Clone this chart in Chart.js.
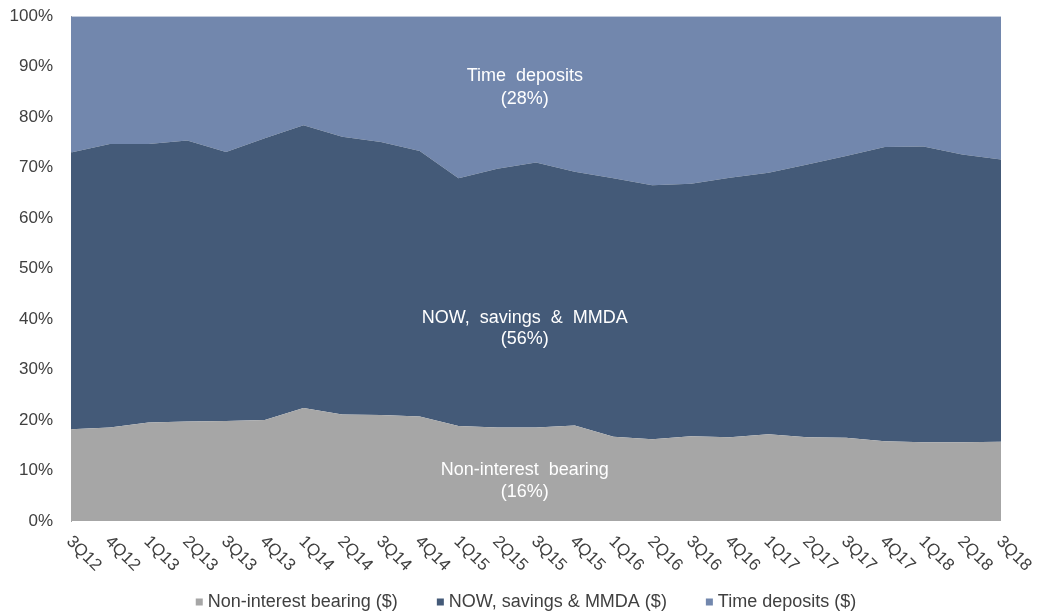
<!DOCTYPE html>
<html>
<head>
<meta charset="utf-8">
<script src="https://cdn.jsdelivr.net/npm/chart.js@4/dist/chart.umd.min.js"></script>
<style>
  html, body { margin: 0; padding: 0; background: #fff; }
  #wrap { width: 1042px; height: 616px; }
</style>
</head>
<body>
<div id="wrap"><canvas id="depositMix"></canvas></div>
<script>
// Deposit mix by quarter, share of total deposits (%)
const quarters = ["3Q12", "4Q12", "1Q13", "2Q13", "3Q13", "4Q13", "1Q14", "2Q14", "3Q14", "4Q14",
  "1Q15", "2Q15", "3Q15", "4Q15", "1Q16", "2Q16", "3Q16", "4Q16", "1Q17", "2Q17",
  "3Q17", "4Q17", "1Q18", "2Q18", "3Q18"];
const nonInterest = [18.2, 18.5, 19.5, 19.7, 19.8, 20.0, 22.4, 21.1, 21.0, 20.7,
  18.8, 18.5, 18.5, 18.9, 16.7, 16.2, 16.8, 16.6, 17.2, 16.6,
  16.5, 15.8, 15.6, 15.6, 15.7];
const nowSavings = [54.8, 56.2, 55.2, 55.7, 53.3, 55.8, 56.0, 55.0, 54.1, 52.6,
  49.1, 51.3, 52.5, 50.3, 51.2, 50.3, 50.0, 51.4, 51.8, 54.0,
  55.8, 58.3, 58.6, 57.0, 55.9];
const timeDeposits = [27.0, 25.3, 25.3, 24.6, 26.9, 24.2, 21.6, 23.9, 24.9, 26.7,
  32.1, 30.2, 29.0, 30.8, 32.1, 33.5, 33.2, 32.0, 31.0, 29.4,
  27.7, 25.9, 25.8, 27.4, 28.4];
const seriesNames = ["Non-interest bearing ($)", "NOW, savings & MMDA ($)", "Time deposits ($)"];
const seriesColors = ["#a6a6a6", "#445a78", "#7287ad"];

// in-chart labels: text lines and the y value (%) each line sits at
const areaLabels = [
  { lines: ["Time  deposits", "(28%)"], y: [88.1, 83.6] },
  { lines: ["NOW,  savings  &  MMDA", "(56%)"], y: [40.2, 36.0] },
  { lines: ["Non-interest  bearing", "(16%)"], y: [10.1, 5.8] }
];

const FAMILY = '"Liberation Sans", Arial, sans-serif';
const TEXT = "#404040";

// rotated quarter labels, reading downward from each tick
const quarterLabels = {
  id: "quarterLabels",
  afterDraw(chart) {
    const ctx = chart.ctx;
    const xs = chart.scales.x;
    const bottom = chart.chartArea.bottom;
    ctx.save();
    ctx.font = "17px " + FAMILY;
    ctx.fillStyle = TEXT;
    ctx.textAlign = "left";
    ctx.textBaseline = "middle";
    quarters.forEach((q, i) => {
      const x = xs.getPixelForValue(i);
      ctx.save();
      ctx.translate(x - 2, bottom + 18);
      ctx.rotate(Math.PI / 4);
      ctx.fillText(q, 0, 0);
      ctx.restore();
    });
    ctx.restore();
  }
};

// white labels inside the areas
const areaText = {
  id: "areaText",
  afterDatasetsDraw(chart) {
    const ctx = chart.ctx;
    const ys = chart.scales.y;
    const area = chart.chartArea;
    const cx = area.left + (area.right - area.left) * 0.488;
    ctx.save();
    ctx.font = "18px " + FAMILY;
    ctx.fillStyle = "#ffffff";
    ctx.textAlign = "center";
    ctx.textBaseline = "middle";
    areaLabels.forEach(lab => {
      lab.lines.forEach((t, k) => ctx.fillText(t, cx, ys.getPixelForValue(lab.y[k])));
    });
    ctx.restore();
  }
};

// legend row along the bottom
const bottomLegend = {
  id: "bottomLegend",
  afterDraw(chart) {
    const ctx = chart.ctx;
    const box = 7, gapBox = 5, gapItem = 39;
    ctx.save();
    ctx.font = "18px " + FAMILY;
    ctx.textBaseline = "middle";
    ctx.textAlign = "left";
    const widths = seriesNames.map(n => ctx.measureText(n).width);
    const total = widths.reduce((a, w) => a + box + gapBox + w, 0) + gapItem * (seriesNames.length - 1);
    let x = 526 - total / 2;
    const y = 601;
    seriesNames.forEach((n, i) => {
      ctx.fillStyle = seriesColors[i];
      ctx.fillRect(x, y - box / 2 + 1, box, box);
      x += box + gapBox;
      ctx.fillStyle = TEXT;
      ctx.fillText(n, x, y + 1);
      x += widths[i] + gapItem;
    });
    ctx.restore();
  }
};

const makeSet = (label, data, color, fill) => ({
  label,
  data,
  backgroundColor: color,
  borderColor: color,
  borderWidth: 0,
  pointRadius: 0,
  pointHoverRadius: 0,
  tension: 0,
  fill
});

new Chart(document.getElementById("depositMix"), {
  type: "line",
  data: {
    labels: quarters,
    datasets: [
      makeSet(seriesNames[0], nonInterest, seriesColors[0], "origin"),
      makeSet(seriesNames[1], nowSavings, seriesColors[1], "-1"),
      makeSet(seriesNames[2], timeDeposits, seriesColors[2], "-1")
    ]
  },
  options: {
    responsive: true,
    maintainAspectRatio: false,
    animation: false,
    layout: { padding: { top: 0, right: 41, left: 0, bottom: 0 } },
    plugins: {
      legend: { display: false },
      tooltip: { enabled: false }
    },
    scales: {
      x: {
        offset: false,
        grid: { display: false },
        border: { display: false },
        ticks: { display: false },
        afterFit: s => { s.height = 95; }
      },
      y: {
        stacked: true,
        min: 0,
        max: 100,
        // tick marks are hidden; their length only pushes the labels left
        grid: { display: false, drawTicks: true, tickLength: 12 },
        border: { display: true, color: "#a6a6a6" },
        ticks: {
          stepSize: 10,
          padding: 6,
          color: TEXT,
          font: { family: FAMILY, size: 17 },
          callback: v => v + "%"
        },
        afterFit: s => { s.width = 71; }
      }
    }
  },
  plugins: [quarterLabels, areaText, bottomLegend]
});
</script>
</body>
</html>
